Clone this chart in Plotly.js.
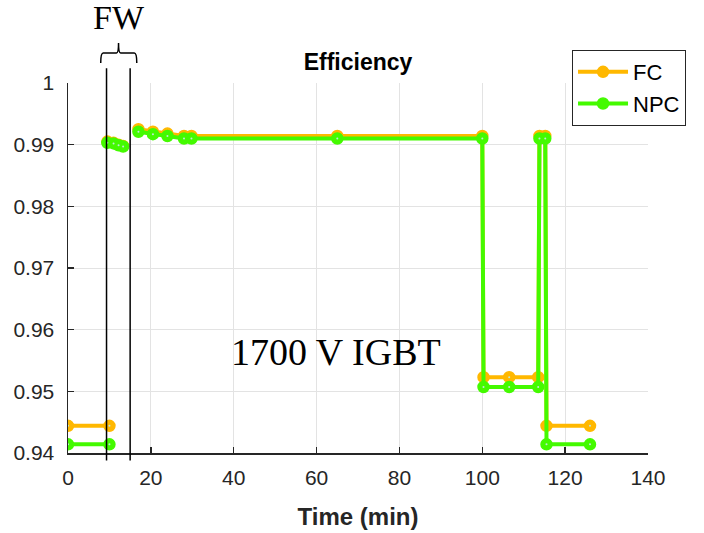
<!DOCTYPE html>
<html>
<head>
<meta charset="utf-8">
<script src="https://cdn.plot.ly/plotly-3.0.1.min.js"></script>
<style>html,body{margin:0;padding:0;background:#fff;}#chart{width:704px;height:533px;}</style>
</head>
<body>
<div id="chart"></div>
<script>
// Data (null = gap between segments)
const timeFC  = [0, 10, null, 9.5, 11, 12.2, 13.3, null, 17, 20.5, 24, 28, 29.8, 65, 100, 100.3, 106.5, 113.5, 113.8, 115.2, 115.5, 126];
const effFC   = [0.9444, 0.9444, null, 0.9905, 0.9903, 0.9900, 0.9898, null, 0.9925, 0.9921, 0.9918, 0.9914, 0.9914, 0.9914, 0.9914, 0.9523, 0.9523, 0.9523, 0.9914, 0.9914, 0.9444, 0.9444];
const timeNPC = [0, 10, null, 9.5, 11, 12.2, 13.3, null, 17, 20.5, 24, 28, 29.8, 65, 100, 100.3, 106.5, 113.5, 113.8, 115.2, 115.5, 126];
const effNPC  = [0.9414, 0.9414, null, 0.9903, 0.9902, 0.9899, 0.9897, null, 0.9921, 0.9917, 0.9914, 0.9910, 0.9910, 0.9910, 0.9910, 0.9507, 0.9507, 0.9507, 0.9910, 0.9910, 0.9414, 0.9414];
const seriesNames = ['FC', 'NPC'];
const fwLines = [9.3, 15.0];
const xTicks = [0, 20, 40, 60, 80, 100, 120, 140];
const yTicks = [0.94, 0.95, 0.96, 0.97, 0.98, 0.99, 1];
const yTickText = ['0.94', '0.95', '0.96', '0.97', '0.98', '0.99', '1'];

const cFC = '#FFB800', cNPC = '#44FA00';
const mk = (c) => ({symbol: 'circle', size: 11, color: c, line: {color: c, width: 1.5}});
const dot = (x, y) => ({x: x, y: y, mode: 'markers', showlegend: false, hoverinfo: 'skip',
  marker: {symbol: 'circle', size: 2, color: '#bfe8d8', line: {width: 0}}});

const traces = [
  {x: timeFC, y: effFC, name: seriesNames[0], mode: 'lines+markers', connectgaps: false,
   line: {color: cFC, width: 4}, marker: mk(cFC)},
  dot(timeFC, effFC),
  {x: timeNPC, y: effNPC, name: seriesNames[1], mode: 'lines+markers', connectgaps: false,
   line: {color: cNPC, width: 4}, marker: mk(cNPC)},
  dot(timeNPC, effNPC)
];

const shapes = fwLines.map(v => ({type: 'line', xref: 'x', yref: 'paper', x0: v, x1: v, y0: -0.02, y1: 1.04,
  line: {color: '#000', width: 1.5}}));
shapes.push({type: 'path', xref: 'x', yref: 'paper',
  path: 'M 7.9,1.054 Q 7.9,1.081 8.5,1.081 L 11.7,1.081 Q 12.2,1.081 12.2,1.108 Q 12.2,1.081 12.7,1.081 L 16.0,1.081 Q 16.6,1.081 16.6,1.054',
  line: {color: '#000', width: 1.5}});

const layout = {
  width: 704, height: 533,
  margin: {l: 68, r: 56, t: 83, b: 80},
  paper_bgcolor: '#fff', plot_bgcolor: '#fff',
  font: {family: 'Liberation Sans, Arial, sans-serif', color: '#262626'},
  title: {text: '<b>Efficiency</b>', font: {size: 23, color: '#000'}, xref: 'paper', x: 0.5, xanchor: 'center',
          yref: 'container', y: 1 - 62/533, yanchor: 'middle'},
  xaxis: {range: [0, 140], tickvals: xTicks, ticktext: xTicks.map(String), showgrid: true, gridcolor: '#e3e3e3', gridwidth: 1,
          zeroline: false, showline: true, linecolor: '#262626', linewidth: 1.5, ticks: 'inside', ticklen: 6, tickwidth: 1.5,
          tickcolor: '#262626', tickfont: {size: 21}, ticklabelstandoff: 5,
          title: {text: '<b>Time (min)</b>', font: {size: 24, color: '#262626'}, standoff: 20}},
  yaxis: {range: [0.94, 1], tickvals: yTicks, ticktext: yTickText, showgrid: true, gridcolor: '#e3e3e3',
          zeroline: false, showline: true, linecolor: '#262626', linewidth: 1.5, ticks: 'inside', ticklen: 6, tickwidth: 1.5,
          tickcolor: '#262626', tickfont: {size: 21}, ticklabelstandoff: 8},
  showlegend: true,
  legend: {x: 0.869, y: 1.089, xanchor: 'left', yanchor: 'top', bgcolor: '#fff', bordercolor: '#262626', borderwidth: 1,
           font: {size: 22, color: '#000'}, itemwidth: 50, entrywidth: 70, entrywidthmode: 'pixels', tracegroupgap: 0},
  shapes: shapes,
  annotations: [
    {text: 'FW', xref: 'x', yref: 'paper', x: 12.2, y: 1.176, showarrow: false, xanchor: 'center', yanchor: 'middle',
     font: {family: 'Liberation Serif, Times New Roman, serif', size: 34, color: '#000'}},
    {text: '1700 V IGBT', xref: 'x', yref: 'y', x: 64.8, y: 0.9564, showarrow: false, xanchor: 'center', yanchor: 'middle',
     font: {family: 'Liberation Serif, Times New Roman, serif', size: 38, color: '#000'}}
  ]
};

Plotly.newPlot('chart', traces, layout, {displayModeBar: false, staticPlot: true});
</script>
</body>
</html>
